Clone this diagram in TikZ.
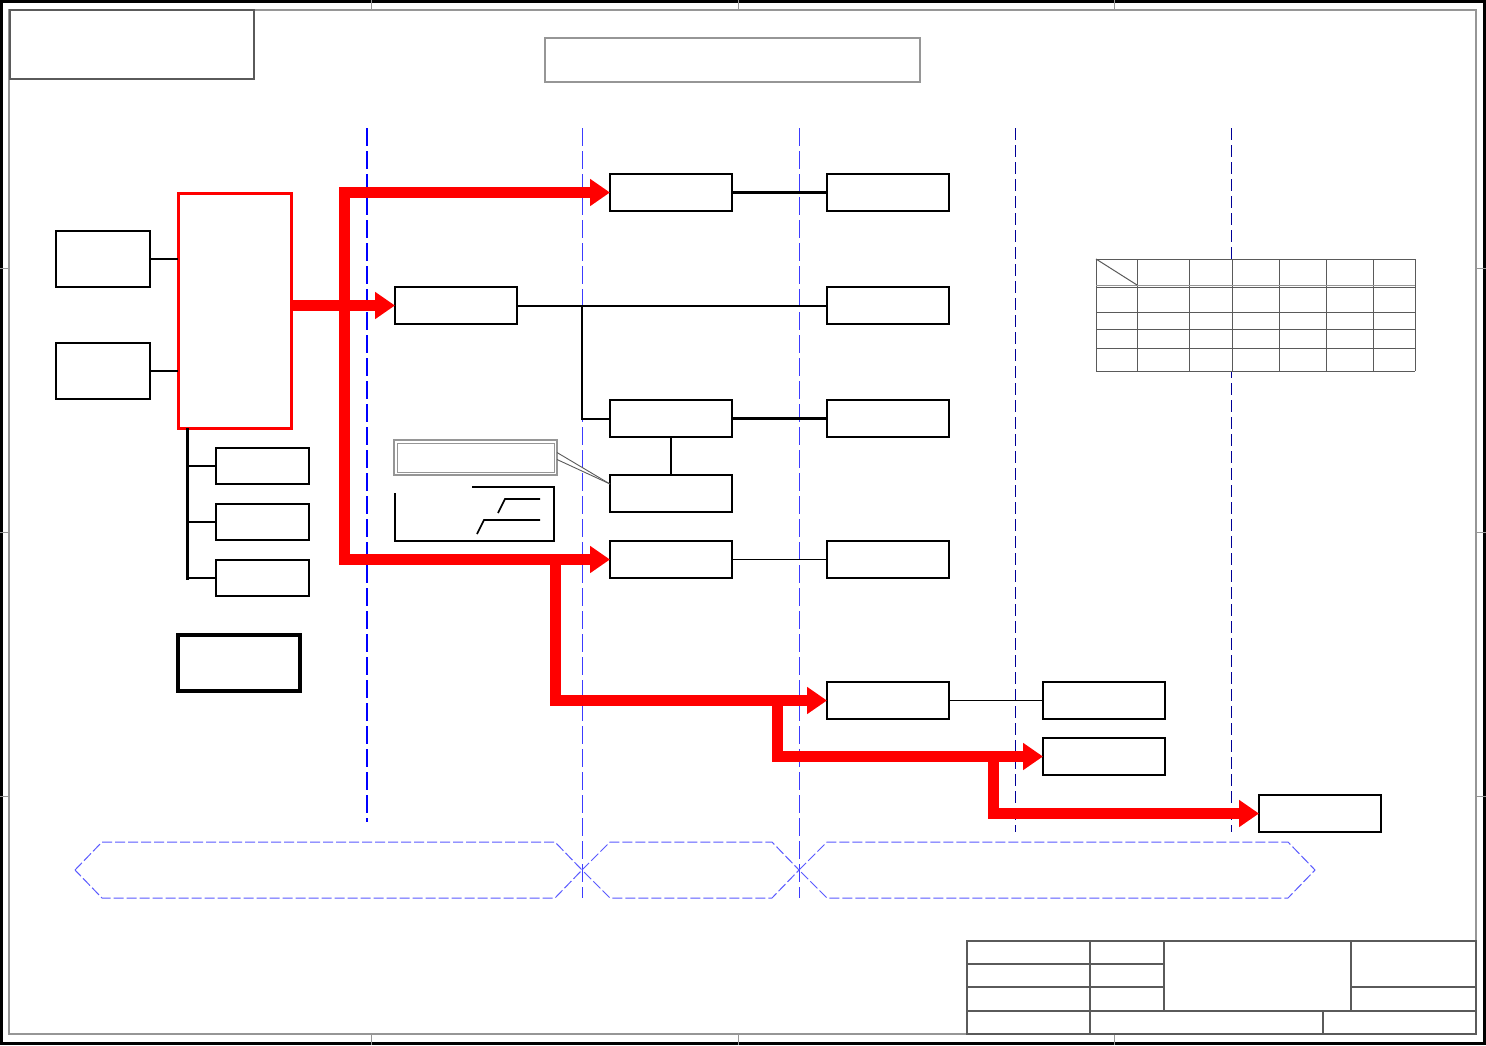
\documentclass[tikz,border=0pt]{standalone}
\usetikzlibrary{arrows.meta,calc}
\definecolor{flowred}{RGB}{255,0,0}
\definecolor{lineblue}{RGB}{0,0,255}
\definecolor{midblue}{RGB}{60,60,255}
\definecolor{lightblue}{RGB}{90,90,255}
\definecolor{navyline}{RGB}{0,0,150}
\definecolor{framegray}{RGB}{150,150,150}
\definecolor{tablegray}{RGB}{90,90,90}
\begin{document}
\begin{tikzpicture}[x=1pt,y=-1pt,
  bx/.style={draw=black, line width=1.8pt, fill=white, inner sep=0pt, outer sep=0pt, anchor=north west, minimum width=122pt, minimum height=37pt},
  redbox/.style={draw=flowred, line width=3pt, inner sep=0pt, outer sep=0pt, anchor=north west},
  flow/.style={draw=flowred, line width=11pt, line join=miter, -{Triangle[length=20pt,width=26pt]}},
  conn/.style={draw=black, line width=2pt},
  shadow/.style={draw=black, line width=2.8pt},
  vdashA/.style={draw=lineblue, line width=1.1pt, dash pattern=on 18pt off 5pt},
  vdashB/.style={draw=midblue, line width=1pt, dash pattern=on 18pt off 5pt},
  vdashC/.style={draw=navyline, line width=1pt, dash pattern=on 12pt off 5pt},
  hexa/.style={draw=lightblue, line width=1pt, dash pattern=on 10pt off 3pt},
  thin/.style={draw=tablegray, line width=1pt}
]
\useasboundingbox (0,0) rectangle (1486,1045);
\fill[white] (0,0) rectangle (1486,1045);

% outer frame
\draw[black, line width=3pt] (1.5,1.5) rectangle (1484.5,1043.5);
\draw[framegray, line width=1.5pt] (9,10) rectangle (1476,1034);
\foreach \x in {371,738,1114} {
  \draw[framegray, line width=1pt] (\x,0) -- (\x,10);
  \draw[framegray, line width=1pt] (\x,1034) -- (\x,1045);
}
\foreach \y in {268,532,796} {
  \draw[framegray, line width=1pt] (0,\y) -- (9,\y);
  \draw[framegray, line width=1pt] (1476,\y) -- (1486,\y);
}

% top boxes
\draw[tablegray, line width=1.2pt] (10,10) rectangle (254,79);
\draw[framegray, line width=1.2pt] (545,38) rectangle (920,82);

% vertical dashed dividers
\draw[vdashA] (367,128) -- (367,822);
\draw[vdashB] (582,128) -- (582,898);
\draw[vdashB] (799,128) -- (799,898);
\draw[vdashC] (1015,128) -- (1015,832);
\draw[vdashC] (1231,128) -- (1231,832);

% bottom hexagons
\draw[hexa] (75,870) -- (102,842) -- (555,842) -- (582,870) -- (555,898) -- (102,898) -- cycle;
\draw[hexa] (582,870) -- (610,842) -- (772,842) -- (799,870) -- (772,898) -- (610,898) -- cycle;
\draw[hexa] (799,870) -- (827,842) -- (1288,842) -- (1315,870) -- (1288,898) -- (827,898) -- cycle;

% table
\fill[white] (1096,259) rectangle (1415,371);
\foreach \x in {1096,1137,1189,1232,1279,1326,1373,1415}
  \draw[thin] (\x,259) -- (\x,371);
\foreach \y in {259,287,312,329,348,371}
  \draw[thin] (1096,\y) -- (1415,\y);
\draw[framegray, line width=0.8pt] (1096,285) -- (1415,285);
\draw[thin] (1096,259) -- (1137,285);

% title block
\draw[tablegray, line width=1.2pt] (967,941) rectangle (1476,1034);
\draw[tablegray, line width=1.2pt] (967,964) -- (1164,964);
\draw[tablegray, line width=1.2pt] (967,987) -- (1164,987);
\draw[tablegray, line width=1.2pt] (1351,987) -- (1476,987);
\draw[tablegray, line width=1.2pt] (967,1011) -- (1476,1011);
\draw[tablegray, line width=1.2pt] (1090,941) -- (1090,1034);
\draw[tablegray, line width=1.2pt] (1164,941) -- (1164,1011);
\draw[tablegray, line width=1.2pt] (1351,941) -- (1351,1011);
\draw[tablegray, line width=1.2pt] (1323,1011) -- (1323,1034);

% left column
\node[bx, minimum width=94pt, minimum height=56pt] (A1) at (56,231) {};
\node[bx, minimum width=94pt, minimum height=56pt] (A2) at (56,343) {};
\node[redbox, minimum width=113pt, minimum height=235pt] (R) at (178,193) {};
\node[bx, minimum width=93pt, minimum height=36pt] (S1) at (216,448) {};
\node[bx, minimum width=93pt, minimum height=36pt] (S2) at (216,504) {};
\node[bx, minimum width=93pt, minimum height=36pt] (S3) at (216,560) {};
\node[bx, line width=3.5pt, minimum width=122pt, minimum height=56pt] (L) at (178,635) {};

\draw[conn, line width=2.5pt] (A1.east) -- (A1.east -| R.west);
\draw[conn, line width=2.5pt] (A2.east) -- (A2.east -| R.west);
\coordinate (busT) at (187,428);
\coordinate (busB) at (187,580);
\draw[conn, line width=3pt] (busT) -- (busB);
\draw[conn, line width=2.5pt] (busT |- S1.west) -- (S1.west);
\draw[conn, line width=2.5pt] (busT |- S2.west) -- (S2.west);
\draw[conn, line width=2.5pt] (busT |- S3.west) -- (S3.west);

% middle boxes
\node[bx] (B) at (395,287) {};
\node[bx] (C1) at (610,174) {};
\node[bx] (C2) at (827,174) {};
\node[bx] (D) at (827,287) {};
\node[bx] (E) at (610,400) {};
\node[bx] (E2) at (827,400) {};
\node[bx] (F) at (610,475) {};
\node[bx] (G) at (610,541) {};
\node[bx] (G2) at (827,541) {};
\node[bx] (H) at (827,682) {};
\node[bx] (H2) at (1043,682) {};
\node[bx] (I) at (1043,738) {};
\node[bx] (J) at (1259,795) {};

\foreach \n in {A1,A2,S1,S2,S3,B,C1,C2,D,E,E2,F,G,G2,H,H2,I,J}
  \draw[shadow] (\n.south west) -- (\n.south east) -- (\n.north east);

% black connectors
\draw[conn, line width=2.8pt] (C1.east) -- (C2.west);
\draw[conn] (B.east) -- (D.west);
\coordinate (brk) at (582,305);
\draw[conn] (brk) |- (E.west);
\draw[conn, line width=2.2pt] (E.south) -- (F.north);
\draw[conn, line width=2.2pt] (E.east) -- (E2.west);
\draw[conn, line width=1.8pt] (G.east) -- (G2.west);
\draw[conn, line width=1.8pt] (H.east) -- (H2.west);

% legend / callout
\node[draw=framegray, line width=1.2pt, inner sep=0pt, outer sep=0pt, anchor=north west, minimum width=163pt, minimum height=35pt] (CO) at (394,440) {};
\draw[framegray, line width=1pt] (397,443) rectangle (554,472);
\coordinate (coTip) at ($(F.north west)+(0,9)$);
\draw[tablegray, line width=0.9pt] ($(CO.east)+(0,-5)$) -- (coTip);
\draw[tablegray, line width=0.9pt] ($(CO.east)+(0,2)$) -- (coTip);
\draw[black, line width=1.2pt] (472,487) -- (554,487) -- (554,541) -- (395,541) -- (395,493);
\draw[black, line width=1.6pt] (498,513) -- (505,499) -- (540,499);
\draw[black, line width=1.6pt] (477,534) -- (484,520) -- (540,520);

% red flows
\coordinate (trT) at (344,193);
\coordinate (trB) at (344,560);
\draw[flow] (trB) |- (C1.west);
\draw[flow] (trT) |- (G.west);
\draw[flow] (R.east |- B.west) -- (B.west);
\coordinate (d1) at (555,560);
\coordinate (d2) at (777,700);
\coordinate (d3) at (993,757);
\draw[flow] (d1) |- (H.west);
\draw[flow] (d2) |- (I.west);
\draw[flow] (d3) |- (J.west);
\end{tikzpicture}
\end{document}
